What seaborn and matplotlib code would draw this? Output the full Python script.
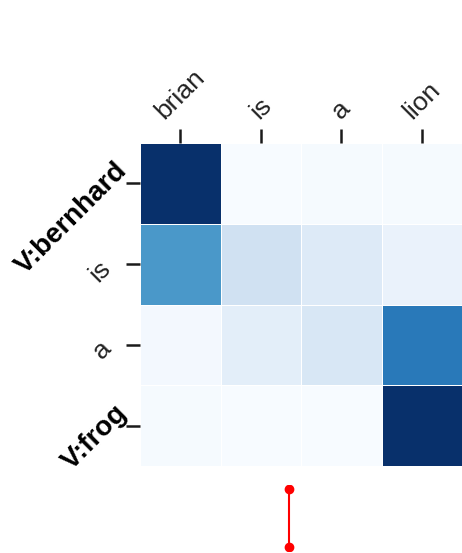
import numpy as np
import pandas as pd
import matplotlib
matplotlib.use("Agg")
import matplotlib.pyplot as plt
import matplotlib.transforms as mtransforms
import seaborn as sns

# %%
# data

src_tokens = ['brian', 'is', 'a', 'lion']
tgt_tokens = ['V:bernhard', 'is', 'a', 'V:frog']
bold_rows = ['V:bernhard', 'V:frog']

row_bernhard = [1.00, 0.00, 0.01, 0.01]
row_is = [0.60, 0.20, 0.13, 0.07]
row_a = [0.02, 0.10, 0.16, 0.72]
row_frog = [0.01, 0.00, 0.00, 1.00]

stem_y = [0, 1]

# %%
plt.rcParams['font.family'] = ['Liberation Sans', 'DejaVu Sans']

attn = pd.DataFrame([row_bernhard, row_is, row_a, row_frog],
                    index=tgt_tokens, columns=src_tokens)

fig = plt.figure(figsize=(4.62, 5.53), dpi=100)
ax = fig.add_axes([140 / 462, 87 / 553, 322 / 462, 323 / 553])

sns.heatmap(attn, cmap='Blues', vmin=0, vmax=1, cbar=False,
            linewidths=0.6, linecolor='white', ax=ax)

ax.xaxis.tick_top()
ax.tick_params(axis='both', length=10, width=1.8, color='#1a1a1a', pad=0)
ax.tick_params(axis='x', pad=4)
ax.set_xticklabels(src_tokens, rotation=45, ha='center', va='bottom',
                   fontsize=19, color='#222222')
ax.set_yticklabels(tgt_tokens, rotation=45, ha='right', va='baseline',
                   rotation_mode='anchor', fontsize=19, color='#222222')

# nudge the row labels (pixels, y up)
for lbl in ax.get_yticklabels():
    if lbl.get_text() in bold_rows:
        lbl.set_fontweight('bold')
        lbl.set_fontsize(20)
        lbl.set_color('black')
        dx, dy = 2, 12
    else:
        dx, dy = -14, -5
    off = mtransforms.ScaledTranslation(dx / 100, dy / 100, fig.dpi_scale_trans)
    lbl.set_transform(lbl.get_transform() + off)
ax.set_xlabel('')
ax.set_ylabel('')

# small red stem below the map
ax2 = fig.add_axes([279 / 462, 2 / 553, 20 / 462, 66 / 553])
ax2.plot([0, 0], stem_y, color='red', lw=1.5, marker='o', markersize=6)
ax2.set_xlim(-1, 1)
ax2.set_ylim(-0.06, 1.06)
ax2.axis('off')

fig.savefig('out.png', dpi=100)
